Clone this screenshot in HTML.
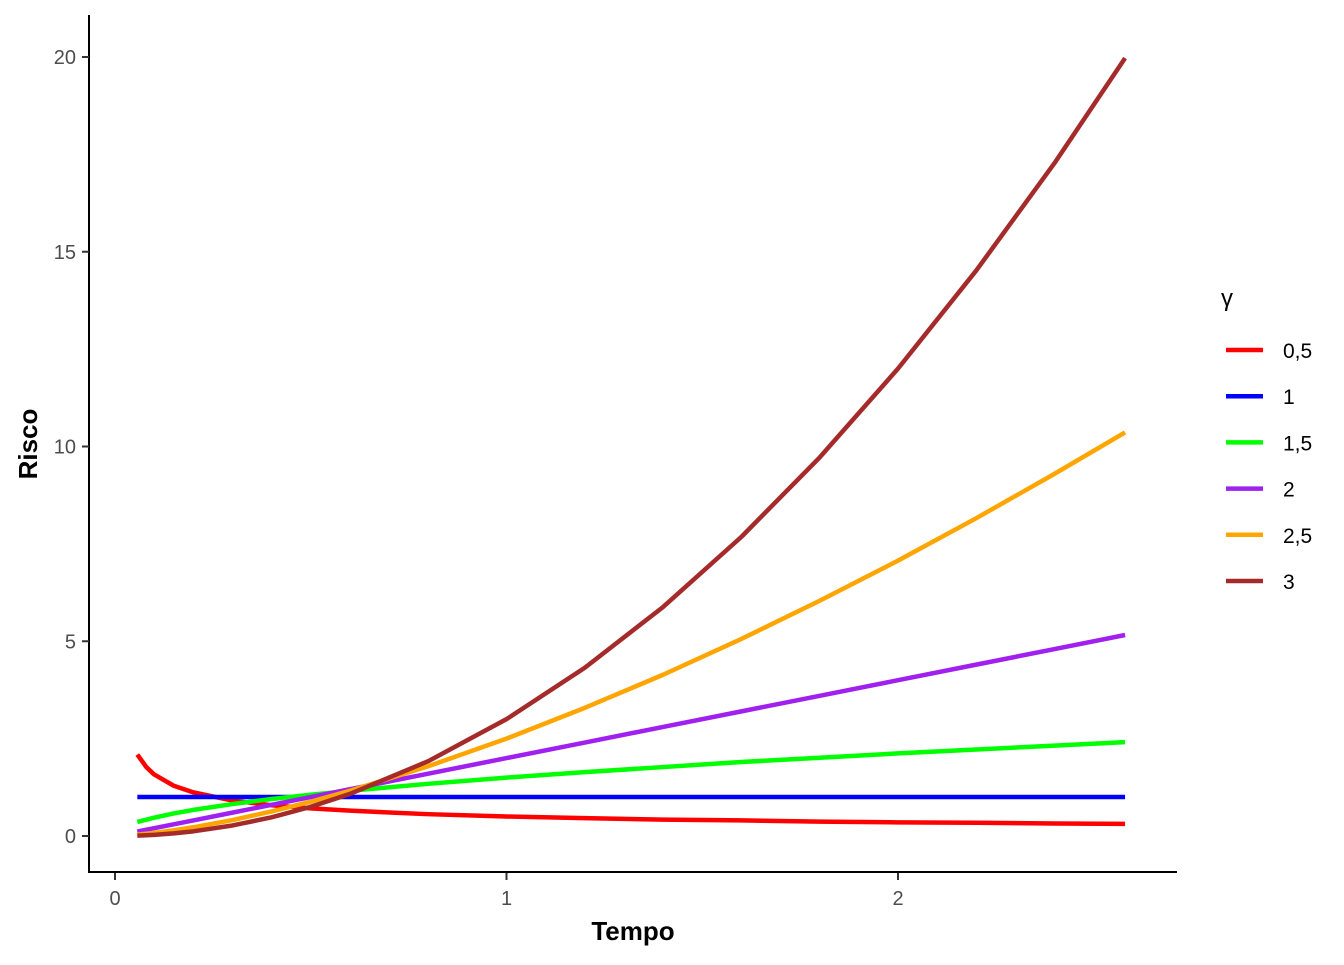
<!DOCTYPE html>
<html><head><meta charset="utf-8"><style>
body{margin:0;background:#fff}
svg text{font-family:"Liberation Sans",sans-serif}
</style></head><body>
<svg id="chart" width="1344" height="960">
<g id="plot"></g>
<line x1="89" y1="15" x2="89" y2="873" stroke="#000" stroke-width="2"/>
<line x1="88" y1="872" x2="1177" y2="872" stroke="#000" stroke-width="2"/>
<g id="ticks"></g>
<text x="633" y="940" text-anchor="middle" font-size="26" font-weight="bold">Tempo</text>
<text transform="translate(37,444) rotate(-90)" text-anchor="middle" font-size="26" font-weight="bold">Risco</text>
<text x="1221" y="306" font-size="24" font-family="Liberation Serif, serif">γ</text>
<g id="legend"></g>
</svg>
<script>
const times = [0.057,0.08,0.1,0.15,0.2,0.3,0.4,0.5,0.6,0.8,1.0,1.2,1.4,1.6,1.8,2.0,2.2,2.4,2.58];
const seriesNames = ["0,5","1","1,5","2","2,5","3"];
const colors = ["#ff0000","#0000ff","#00ff00","#a020f0","#ffa500","#a52a2a"];
const g05 = [2.09,1.77,1.58,1.29,1.12,0.91,0.79,0.71,0.65,0.56,0.5,0.46,0.42,0.40,0.37,0.35,0.34,0.32,0.31];
const g10 = [1,1,1,1,1,1,1,1,1,1,1,1,1,1,1,1,1,1,1];
const g15 = [0.36,0.42,0.47,0.58,0.67,0.82,0.95,1.06,1.16,1.34,1.5,1.64,1.77,1.90,2.01,2.12,2.22,2.32,2.41];
const g20 = [0.114,0.16,0.2,0.3,0.4,0.6,0.8,1,1.2,1.6,2,2.4,2.8,3.2,3.6,4,4.4,4.8,5.16];
const g25 = [0.034,0.057,0.079,0.145,0.224,0.41,0.63,0.88,1.16,1.79,2.5,3.29,4.14,5.06,6.04,7.07,8.16,9.30,10.36];
const g30 = [0.0097,0.019,0.03,0.0675,0.12,0.27,0.48,0.75,1.08,1.92,3,4.32,5.88,7.68,9.72,12,14.52,17.28,19.97];
const xTicks = [0,1,2];
const yTicks = [0,5,10,15,20];
const allSeries = [g05,g10,g15,g20,g25,g30];
const xs = v => 115 + v*391.5;
const ys = v => 836 - v*38.95;
const NS="http://www.w3.org/2000/svg";
const plot=document.getElementById('plot');
allSeries.forEach((s,i)=>{
  const p=document.createElementNS(NS,'polyline');
  p.setAttribute('points',s.map((v,j)=>xs(times[j])+','+ys(v)).join(' '));
  p.setAttribute('fill','none');p.setAttribute('stroke',colors[i]);
  p.setAttribute('stroke-width','4.5');p.setAttribute('stroke-linejoin','round');
  
  
  plot.appendChild(p);
});
const ticks=document.getElementById('ticks');
xTicks.forEach(v=>{
  const l=document.createElementNS(NS,'line');
  l.setAttribute('x1',xs(v));l.setAttribute('x2',xs(v));l.setAttribute('y1',873);l.setAttribute('y2',880);
  l.setAttribute('stroke','#333');l.setAttribute('stroke-width','2');
  
  
  ticks.appendChild(l);
  const t=document.createElementNS(NS,'text');
  t.setAttribute('x',xs(v));t.setAttribute('y',905);t.setAttribute('text-anchor','middle');
  t.setAttribute('font-size','20');t.setAttribute('fill','#4d4d4d');t.textContent=v;
  
  
  ticks.appendChild(t);
});
yTicks.forEach(v=>{
  const l=document.createElementNS(NS,'line');
  l.setAttribute('x1',82);l.setAttribute('x2',89);l.setAttribute('y1',ys(v));l.setAttribute('y2',ys(v));
  l.setAttribute('stroke','#333');l.setAttribute('stroke-width','2');
  
  
  ticks.appendChild(l);
  const t=document.createElementNS(NS,'text');
  t.setAttribute('x',76);t.setAttribute('y',ys(v)+7);t.setAttribute('text-anchor','end');
  t.setAttribute('font-size','20');t.setAttribute('fill','#4d4d4d');t.textContent=v;
  
  
  ticks.appendChild(t);
});
const leg=document.getElementById('legend');
seriesNames.forEach((n,i)=>{
  const y=350+i*46.2;
  const l=document.createElementNS(NS,'line');
  l.setAttribute('x1',1226);l.setAttribute('x2',1263);l.setAttribute('y1',y);l.setAttribute('y2',y);
  l.setAttribute('stroke',colors[i]);l.setAttribute('stroke-width','4.5');
  
  
  leg.appendChild(l);
  const t=document.createElementNS(NS,'text');
  t.setAttribute('x',1283);t.setAttribute('y',y+8);t.setAttribute('font-size','21');t.textContent=n;
  
  
  leg.appendChild(t);
});
</script>
</body></html>
